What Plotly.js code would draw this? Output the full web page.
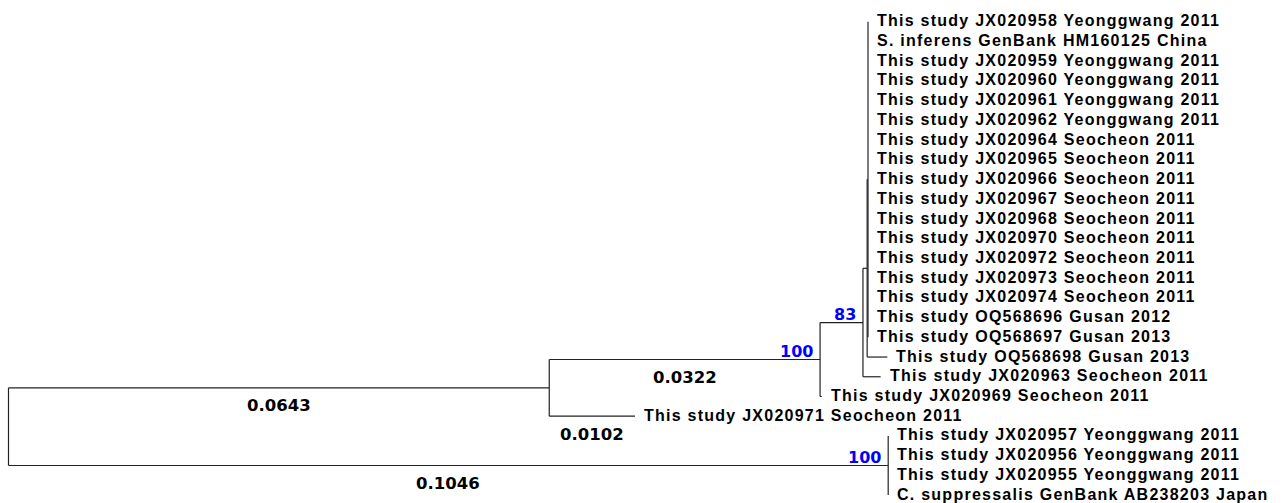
<!DOCTYPE html>
<html>
<head>
<meta charset="utf-8">
<script src="https://cdn.plot.ly/plotly-3.0.1.min.js"></script>
<style>html,body{margin:0;padding:0;background:#fff;}#chart{width:1282px;height:503px;}</style>
</head>
<body>
<div id="chart"></div>
<script>
// ---- Data: taxa (tips) in display order ----
const taxa = [
  'This study JX020958 Yeonggwang 2011',
  'S. inferens GenBank HM160125 China',
  'This study JX020959 Yeonggwang 2011',
  'This study JX020960 Yeonggwang 2011',
  'This study JX020961 Yeonggwang 2011',
  'This study JX020962 Yeonggwang 2011',
  'This study JX020964 Seocheon 2011',
  'This study JX020965 Seocheon 2011',
  'This study JX020966 Seocheon 2011',
  'This study JX020967 Seocheon 2011',
  'This study JX020968 Seocheon 2011',
  'This study JX020970 Seocheon 2011',
  'This study JX020972 Seocheon 2011',
  'This study JX020973 Seocheon 2011',
  'This study JX020974 Seocheon 2011',
  'This study OQ568696 Gusan 2012',
  'This study OQ568697 Gusan 2013',
  'This study OQ568698 Gusan 2013',
  'This study JX020963 Seocheon 2011',
  'This study JX020969 Seocheon 2011',
  'This study JX020971 Seocheon 2011',
  'This study JX020957 Yeonggwang 2011',
  'This study JX020956 Yeonggwang 2011',
  'This study JX020955 Yeonggwang 2011',
  'C. suppressalis GenBank AB238203 Japan'
];
// parent node of each tip
const taxonParent = ['E','E','E','E','E','E','E','E','E','E','E','E','E','E','E','E','E',
                     'D','C','B','A','F','F','F','F'];
// branch length of each tip
const taxonBranch = [0,0,0,0,0,0,0,0,0,0,0,0,0,0,0,0,0,
                     0.0024,0.0021,0.0002,0.0102,0,0,0,0];
// internal nodes (parents listed before children)
const nodes       = ['root','A','B','C','D','E','F'];
const nodeParent  = [null,'root','A','B','C','D','root'];
const nodeBranch  = [0,0.0643,0.0322,0.0051,0.0005,0.0001,0.1046];
// bootstrap support values
const bootNodes   = ['B','C','F'];
const bootValues  = [100,83,100];
// branches whose length is printed
const lengthLabelBranches = ['A','F','B','This study JX020971 Seocheon 2011'];

// ---- Layout of the tree ----
const nx = {}, ny = {}, children = {};
nodes.forEach(n => children[n] = []);
nodes.forEach((n,i) => {
  if (nodeParent[i] === null) nx[n] = 0;
  else { nx[n] = nx[nodeParent[i]] + nodeBranch[i]; children[nodeParent[i]].push({y:null,node:n}); }
});
const tipX = taxa.map((t,i) => nx[taxonParent[i]] + taxonBranch[i]);
taxa.forEach((t,i) => children[taxonParent[i]].push({y:i,node:null}));
for (let k = nodes.length-1; k >= 0; k--) {
  const n = nodes[k];
  const ys = children[n].map(c => c.node ? ny[c.node] : c.y);
  children[n].ys = ys;
  ny[n] = (Math.min(...ys) + Math.max(...ys)) / 2;
}
const xs = [], ys = [];
// horizontal branches
nodes.forEach((n,i) => {
  if (nodeParent[i] !== null) { xs.push(nx[nodeParent[i]], nx[n], null); ys.push(ny[n], ny[n], null); }
});
taxa.forEach((t,i) => {
  if (taxonBranch[i] > 0) { xs.push(nx[taxonParent[i]], tipX[i], null); ys.push(i, i, null); }
});
// vertical connectors
nodes.forEach(n => {
  const cy = children[n].ys;
  xs.push(nx[n], nx[n], null); ys.push(Math.min(...cy), Math.max(...cy), null);
});

const annotations = [];
taxa.forEach((t,i) => annotations.push({
  x: tipX[i], y: i, xref:'x', yref:'y', showarrow:false, xanchor:'left', yanchor:'middle',
  xshift: 7, yshift: 1,
  text: '<span style="letter-spacing:1.25px">' + t + '</span>',
  font: {family:'Liberation Sans, Arial, sans-serif', size:16, color:'#000', weight:'bold'}
}));
bootNodes.forEach((n,i) => annotations.push({
  x: nx[n], y: ny[n], xref:'x', yref:'y', showarrow:false, xanchor:'right', yanchor:'bottom',
  xshift: -5, yshift: -3,
  text: String(bootValues[i]),
  font: {family:'DejaVu Sans, Verdana, sans-serif', size:16, color:'#0000ff', weight:'bold'}
}));
lengthLabelBranches.forEach(b => {
  let x0, x1, y, len;
  const ni = nodes.indexOf(b);
  if (ni >= 0) { x0 = nx[nodeParent[ni]]; x1 = nx[b]; y = ny[b]; len = nodeBranch[ni]; }
  else { const ti = taxa.indexOf(b); x0 = nx[taxonParent[ti]]; x1 = tipX[ti]; y = ti; len = taxonBranch[ti]; }
  annotations.push({
    x: (x0+x1)/2, y: y, xref:'x', yref:'y', showarrow:false, xanchor:'center', yanchor:'middle',
    yshift: -18,
    text: len.toFixed(4),
    font: {family:'DejaVu Sans, Verdana, sans-serif', size:16.5, color:'#000', weight:'bold'}
  });
});

const pxPerUnit = 8410, x0px = 8.5, rowPx = 19.72, row0px = 21.8;
const W = 1282, H = 503;
Plotly.newPlot('chart', [{
  x: xs, y: ys, type:'scatter', mode:'lines', hoverinfo:'skip',
  line: {color:'#222', width:1.2}
}], {
  width: W, height: H, margin:{l:0,r:0,t:0,b:0},
  paper_bgcolor:'#fff', plot_bgcolor:'#fff', showlegend:false,
  xaxis: {visible:false, range:[-x0px/pxPerUnit, (W-x0px)/pxPerUnit], fixedrange:true},
  yaxis: {visible:false, range:[(H-row0px)/rowPx, -row0px/rowPx], fixedrange:true},
  annotations: annotations
}, {displayModeBar:false, staticPlot:true});
</script>
</body>
</html>
